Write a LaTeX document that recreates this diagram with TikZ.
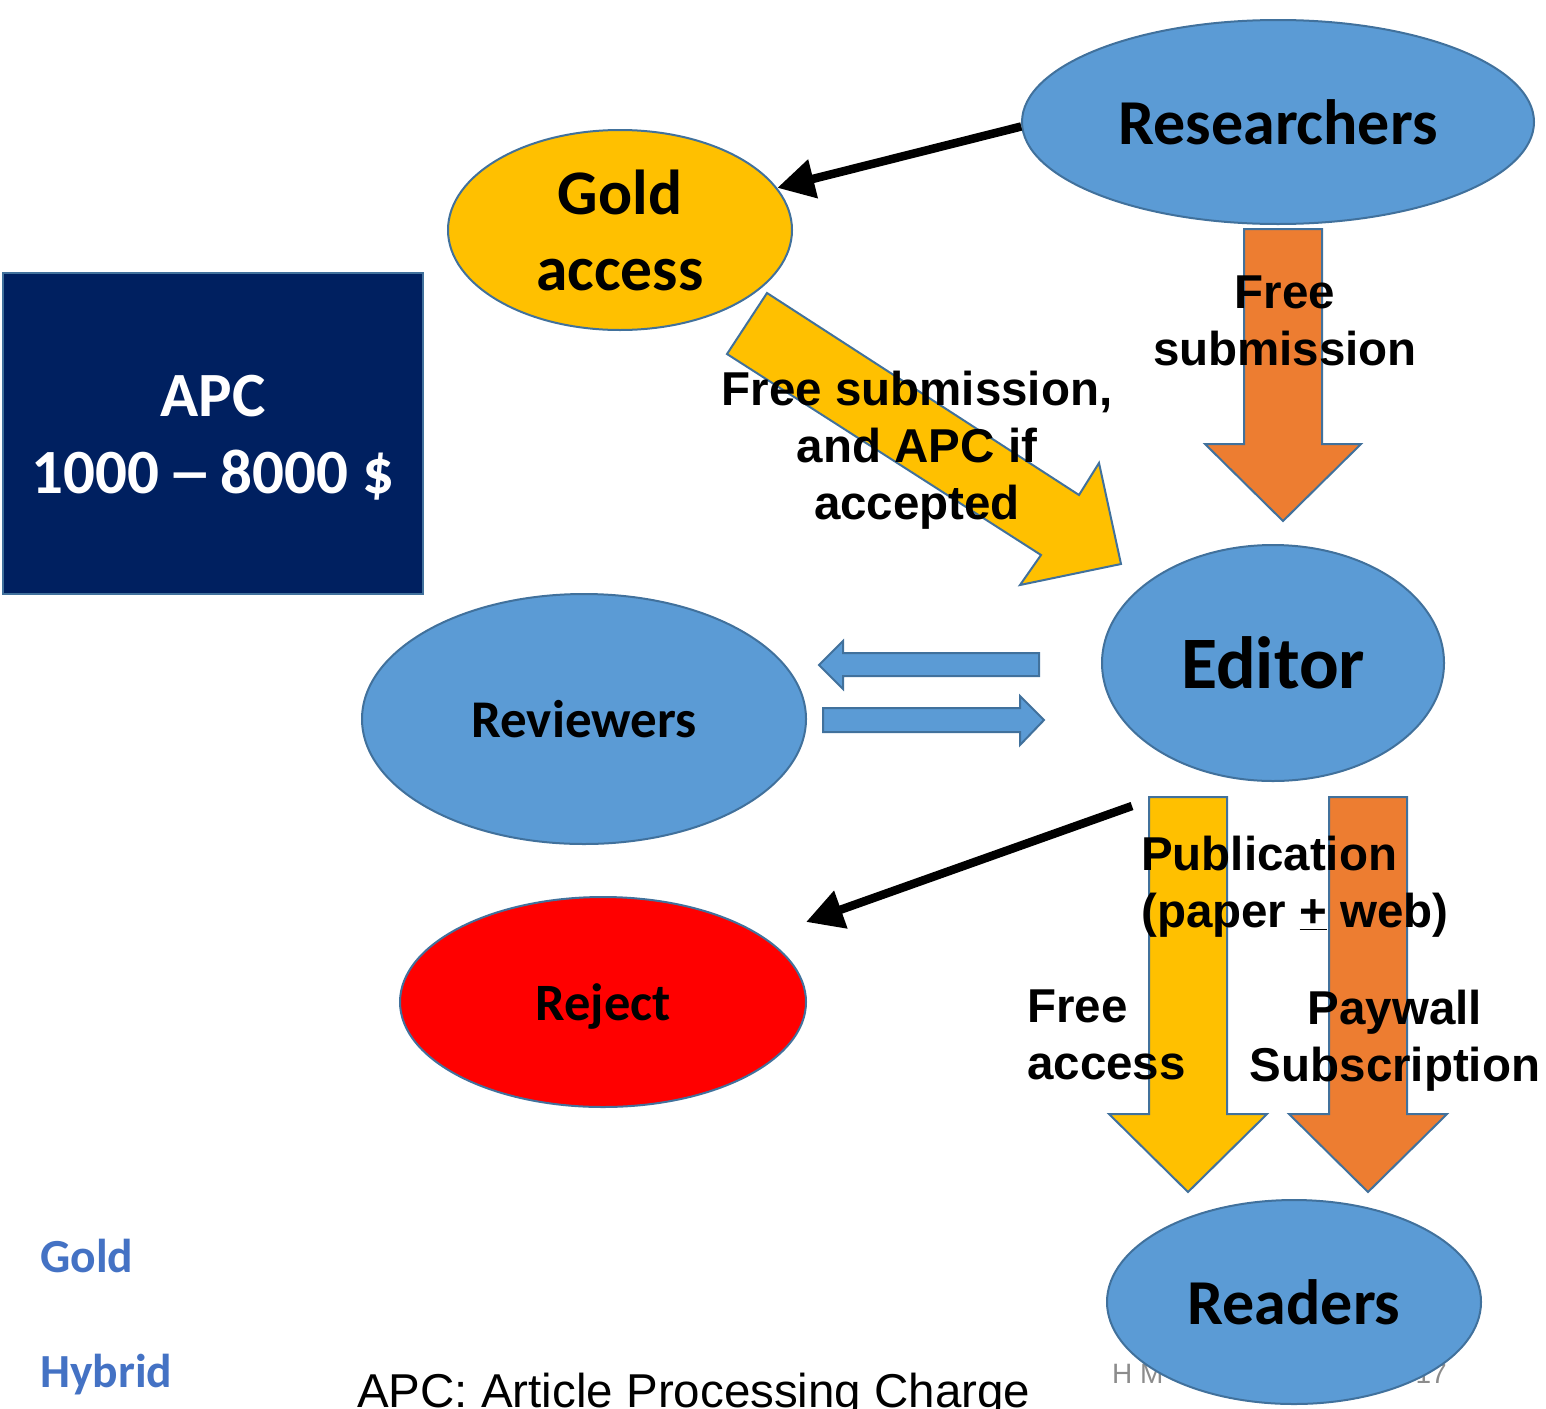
\documentclass[tikz,border=0pt]{standalone}
\usepackage{fontspec}
\setmainfont{Liberation Sans}
\newfontfamily\calfont{Carlito}
\usetikzlibrary{arrows.meta,shapes.geometric}
\definecolor{blu}{HTML}{5B9BD5}
\definecolor{bord}{HTML}{41719C}
\definecolor{goldc}{HTML}{FFC000}
\definecolor{orng}{HTML}{ED7D31}
\definecolor{navy}{HTML}{002060}
\definecolor{hyb}{HTML}{4472C4}
\definecolor{gry}{HTML}{8C8C8C}
\newcommand\cbfont[2]{\calfont\bfseries\fontsize{#1}{#2}\selectfont}
\tikzset{
  ell/.style={ellipse, draw=bord, line width=2pt, inner sep=0pt, fill=blu},
  barrow/.style={draw=bord, line width=2pt, line join=miter},
  conn/.style={line width=8.5pt, -{Triangle[length=37pt,width=38pt]}},
  lbl/.style={inner sep=0pt, font=\bfseries\fontsize{47.5}{57}\selectfont},
}
\begin{document}
\begin{tikzpicture}[x=1pt,y=-1pt]
\useasboundingbox (0,0) rectangle (1546,1408);
% APC box
\node[draw=bord, line width=2pt, fill=navy, minimum width=420pt, minimum height=321pt, inner sep=0pt] (apc) at (213,433.5) {};
\node[align=center, inner sep=0pt, text=white, font=\cbfont{63}{77}] (apct) at (213,438) {APC\\1000 \makebox[0.52em]{\scalebox{1.45}[1]{–}} 8000 \$};
% footer grey text (partly covered)
\node[anchor=base west, inner sep=0pt, text=gry, font=\fontsize{28}{30}\selectfont] (ft1) at (1112,1383) {H M};
\node[anchor=base east, inner sep=0pt, text=gry, font=\fontsize{28}{30}\selectfont] (ft2) at (1447,1383) {17};
% ellipses
\node[ell, minimum width=512pt, minimum height=204pt, font=\cbfont{64}{77}] (res) at (1278,122) {Researchers};
\node[ell, fill=goldc, minimum width=344pt, minimum height=200pt, align=center, font=\cbfont{63.5}{76}] (gold) at (620,230) {Gold\\access};
\node[ell, minimum width=342pt, minimum height=236pt, font=\cbfont{74}{88}] (edi) at (1273,663) {Editor};
\node[ell, minimum width=444pt, minimum height=250pt, font=\cbfont{53}{64}] (rev) at (584,719) {Reviewers};
\node[ell, fill=red, minimum width=406pt, minimum height=210pt, font=\cbfont{52.5}{63}, text depth=0pt] (rej) at (603,1002) {Reject};
\node[ell, minimum width=374pt, minimum height=204pt, font=\cbfont{64}{77}] (rea) at (1294,1302) {Readers};
% block arrows
\filldraw[barrow, fill=orng] (1244,229) -- (1322,229) -- (1322,444) -- (1361,444) -- (1283,521) -- (1205,444) -- (1244,444) -- cycle;
\filldraw[barrow, fill=goldc] (767,293) -- (1079,495) -- (1099,463) -- (1121,564) -- (1020,585) -- (1041,555) -- (727,354) -- cycle;
\filldraw[barrow, fill=blu] (1039,653) -- (843,653) -- (843,641) -- (819,665) -- (843,689) -- (843,676) -- (1039,676) -- cycle;
\filldraw[barrow, fill=blu] (823,708) -- (1020,708) -- (1020,696) -- (1044,720) -- (1020,745) -- (1020,732) -- (823,732) -- cycle;
\filldraw[barrow, fill=goldc] (1149,797) -- (1227,797) -- (1227,1114) -- (1267,1114) -- (1188,1192) -- (1109,1114) -- (1149,1114) -- cycle;
\filldraw[barrow, fill=orng] (1329,797) -- (1407,797) -- (1407,1114) -- (1447,1114) -- (1368,1192) -- (1289,1114) -- (1329,1114) -- cycle;
% black connectors
\draw[conn] (res.181) -- (gold.15);
\coordinate (rs) at (1132,806);
\coordinate (rt) at (806,922);
\draw[conn] (rs) -- (rt);
% labels
\node[lbl, anchor=north, align=center] (l1) at (917,371) {Free submission,\\and APC if\\accepted};
\node[lbl, anchor=north, align=center] (l2) at (1285,276) {Free\\submission};
\node[lbl, anchor=north west, align=left] (l3) at (1141,836) {Publication\\(paper \underline{+} web)};
\node[lbl, anchor=north west, align=left] (l4) at (1027,990) {Free\\access};
\node[lbl, anchor=north, align=center] (l5) at (1395,990) {Paywall\\Subscription};
% left legend
\node[anchor=base west, inner sep=0pt, text=hyb, font=\cbfont{47.5}{57}] (lg) at (40,1272) {Gold};
\node[anchor=base west, inner sep=0pt, text=hyb, font=\cbfont{47.5}{57}] (lh) at (40,1387) {Hybrid};
% caption
\node[anchor=base west, inner sep=0pt, font=\fontsize{47.5}{57}\selectfont] (cap) at (357,1407) {APC: Article Processing Charge};
\end{tikzpicture}
\end{document}
